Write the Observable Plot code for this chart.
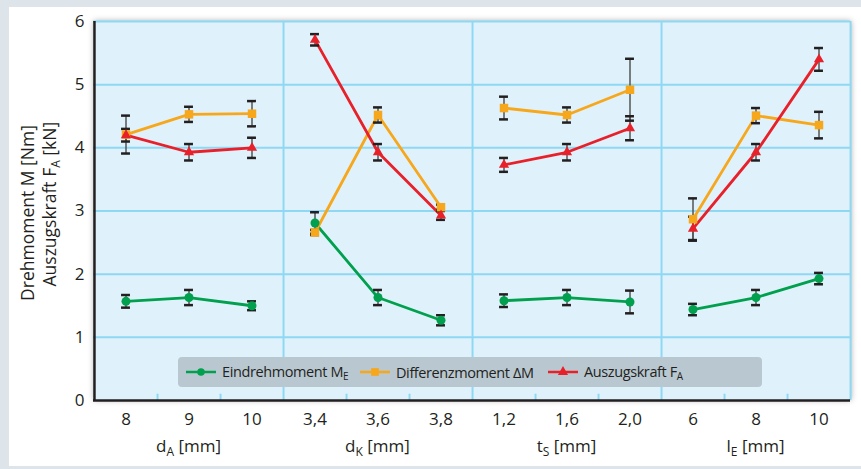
<!DOCTYPE html>
<html>
<head>
<meta charset="utf-8">
<script src="https://cdn.jsdelivr.net/npm/d3@7"></script>
<script src="https://cdn.jsdelivr.net/npm/@observablehq/plot@0.6"></script>
<style>
  body { margin: 0; background: #fff; }
  #wrap { position: relative; width: 861px; height: 469px; background: #dde4ea; overflow: hidden; font-family: "Open Sans", sans-serif; color: #231f20; }
  #panel { position: absolute; left: 9px; top: 7px; right: 0; bottom: 3px; background: #fff; }
  #plotbg { position: absolute; left: 93px; top: 21px; width: 757px; height: 379px; background: #dff2fb; box-shadow: 1px 0 6px rgba(0,0,0,0.35); }
  #chart { position: absolute; left: 0; top: 0; }
  #legend { position: absolute; left: 178px; top: 357px; width: 584px; height: 30px; background: #b9c8d0; border-radius: 4px; }
  #legend .item { position: absolute; top: 0; height: 30px; display: flex; align-items: center; font-size: 14.5px; letter-spacing: -0.4px; white-space: nowrap; }
  #legend .item svg { margin-right: 6px; }
  #legend sub { font-size: 10px; vertical-align: -3px; letter-spacing: 0; }
</style>
</head>
<body>
<div id="wrap">
  <div id="panel"></div>
  <div id="plotbg"></div>
  <div id="chart"></div>
  <div id="legend"></div>
</div>
<script>
// ---- data ----
const groups = ["dA", "dK", "tS", "lE"];
const groupTitles = [["d", "A", " [mm]"], ["d", "K", " [mm]"], ["t", "S", " [mm]"], ["l", "E", " [mm]"]];
const tickLabels = ["8", "9", "10", "3,4", "3,6", "3,8", "1,2", "1,6", "2,0", "6", "8", "10"];
const groupOfCategory = ["dA","dA","dA","dK","dK","dK","tS","tS","tS","lE","lE","lE"];

const seriesNames = ["Eindrehmoment", "Differenzmoment", "Auszugskraft"];
const seriesLegend = [["Eindrehmoment M", "E"], ["Differenzmoment ΔM", ""], ["Auszugskraft F", "A"]];
const seriesColors = ["#00a04e", "#f7a71c", "#e8202a"];
const seriesSymbols = ["circle", "square", "triangle"];

const mE    = [1.57, 1.63, 1.50, 2.81, 1.63, 1.27, 1.58, 1.63, 1.56, 1.44, 1.63, 1.93];
const mEErr = [0.10, 0.12, 0.07, 0.17, 0.12, 0.08, 0.10, 0.12, 0.18, 0.09, 0.12, 0.09];
const dM    = [4.21, 4.53, 4.54, 2.66, 4.52, 3.06, 4.63, 4.52, 4.92, 2.87, 4.51, 4.36];
const dMErr = [0.30, 0.12, 0.20, 0.04, 0.12, 0.04, 0.18, 0.12, 0.49, 0.33, 0.12, 0.21];
const fA    = [4.20, 3.93, 4.00, 5.71, 3.93, 2.93, 3.73, 3.93, 4.31, 2.72, 3.93, 5.40];
const fAErr = [0.10, 0.13, 0.16, 0.09, 0.13, 0.07, 0.11, 0.13, 0.19, 0.19, 0.13, 0.18];

const yTicks = [0, 1, 2, 3, 4, 5, 6];

// ---- build table ----
const keys = tickLabels.map((t, i) => groupOfCategory[i] + ":" + t);
const labelOf = new Map(keys.map((k, i) => [k, tickLabels[i]]));
const seriesValues = [mE, dM, fA];
const seriesErr = [mEErr, dMErr, fAErr];
const rows = [];
seriesNames.forEach((s, si) => {
  keys.forEach((k, i) => {
    rows.push({key: k, group: groupOfCategory[i], series: s, value: seriesValues[si][i], err: seriesErr[si][i]});
  });
});
const groupLast = groups.map(g => keys.filter((k, i) => groupOfCategory[i] === g).slice(-1)[0]);
const innerKeys = groups.flatMap(g => keys.filter((k, i) => groupOfCategory[i] === g).slice(0, -1));
const groupMid = groups.map(g => keys.filter((k, i) => groupOfCategory[i] === g)[1]);

const W = 861, H = 469, mL = 93, mR = 11, mT = 21, mB = 69;
const bw = (W - mL - mR) / keys.length;
const grid = "#8ed8f4";
const capInset = (bw - 9) / 2;

const marks = [
  Plot.ruleY(yTicks.filter(d => d > 0), {stroke: grid, strokeWidth: 2}),
  Plot.ruleX(groupLast, {dx: bw / 2, stroke: grid, strokeWidth: 2}),
  Plot.ruleX(innerKeys, {dx: bw / 2, y1: 0, y2: 0.1, stroke: grid, strokeWidth: 2}),
  Plot.ruleX([keys[0]], {dx: -bw / 2, stroke: "#231f20", strokeWidth: 2.5}),
  Plot.ruleY([0], {stroke: "#231f20", strokeWidth: 2.5}),
  Plot.ruleX(rows, {x: "key", y1: d => d.value - d.err, y2: d => d.value + d.err, stroke: "#555", strokeWidth: 1.5})
];
seriesNames.forEach((s, si) => {
  const data = rows.filter(d => d.series === s);
  marks.push(Plot.line(data, {x: "key", y: "value", z: "group", stroke: seriesColors[si], strokeWidth: 2.8}));
});
marks.push(
  Plot.tickY(rows, {x: "key", y: d => d.value + d.err, insetLeft: capInset, insetRight: capInset, stroke: "#231f20", strokeWidth: 2.5}),
  Plot.tickY(rows, {x: "key", y: d => d.value - d.err, insetLeft: capInset, insetRight: capInset, stroke: "#231f20", strokeWidth: 2.5})
);
const radii = [4.5, 4.8, 3.8];
seriesNames.forEach((s, si) => {
  const data = rows.filter(d => d.series === s);
  marks.push(Plot.dot(data, {x: "key", y: "value", symbol: seriesSymbols[si], r: radii[si], fill: seriesColors[si], stroke: "none"}));
});

const plot = Plot.plot({
  width: W, height: H,
  marginLeft: mL, marginRight: mR, marginTop: mT, marginBottom: mB,
  style: {background: "transparent", fontFamily: "Open Sans, sans-serif", fontSize: "17px", color: "#231f20", overflow: "visible"},
  x: {type: "band", domain: keys, padding: 0, tickSize: 0, tickPadding: 12, tickFormat: k => labelOf.get(k), label: null},
  y: {domain: [0, 6], ticks: yTicks, tickSize: 0, tickPadding: 9, tickFormat: d => String(d), label: null},
  marks
});
document.getElementById("chart").appendChild(plot);

// ---- titles with subscripts ----
const svg = d3.select(plot);
const xs = plot.scale("x");
const ys = plot.scale("y");
groups.forEach((g, gi) => {
  const cx = xs.apply(groupMid[gi]) + (xs.bandwidth || 0) / 2;
  const t = svg.append("text").attr("x", cx).attr("y", 452).attr("text-anchor", "middle")
    .attr("font-size", 17).attr("fill", "#231f20");
  const [a, sub, b] = groupTitles[gi];
  t.append("tspan").text(a);
  t.append("tspan").attr("font-size", 12).attr("dy", 4).text(sub);
  t.append("tspan").attr("dy", -4).text(b);
});
const t1 = svg.append("text").attr("transform", `translate(34,${ys.apply(2.96)}) rotate(-90)`).attr("text-anchor", "middle").attr("font-size", 17.5).attr("fill", "#231f20");
t1.append("tspan").text("Drehmoment M [Nm]");
const t2 = svg.append("text").attr("transform", `translate(56,${ys.apply(3.1)}) rotate(-90)`).attr("text-anchor", "middle").attr("font-size", 17.5).attr("fill", "#231f20");
t2.append("tspan").text("Auszugskraft F");
t2.append("tspan").attr("font-size", 12).attr("dy", 4).text("A");
t2.append("tspan").attr("dy", -4).text(" [kN]");

// ---- legend ----
const legend = document.getElementById("legend");
const itemLeft = [8, 182, 370];
seriesNames.forEach((s, si) => {
  const item = document.createElement("div");
  item.className = "item";
  item.style.left = itemLeft[si] + "px";
  const sym = d3.symbol(si === 0 ? d3.symbolCircle : si === 1 ? d3.symbolSquare : d3.symbolTriangle, si === 0 ? 45 : si === 1 ? 60 : 45)();
  item.innerHTML = `<svg width="30" height="12"><line x1="0" y1="6" x2="30" y2="6" stroke="${seriesColors[si]}" stroke-width="2.5"/><path transform="translate(15,6)" d="${sym}" fill="${seriesColors[si]}"/></svg><span>${seriesLegend[si][0]}${seriesLegend[si][1] ? "<sub>" + seriesLegend[si][1] + "</sub>" : ""}</span>`;
  legend.appendChild(item);
});
</script>
</body>
</html>
